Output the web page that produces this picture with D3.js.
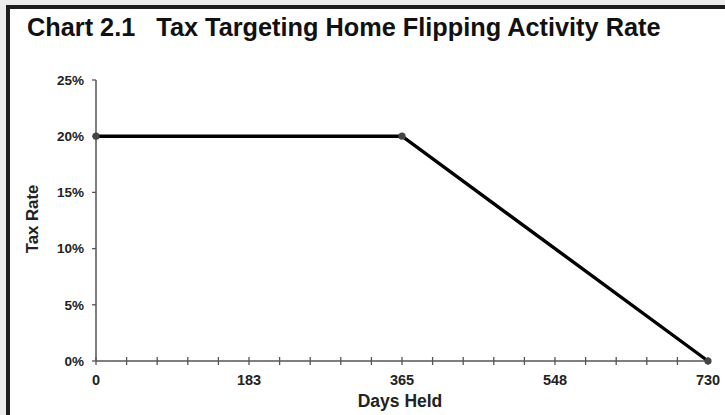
<!DOCTYPE html>
<html><head><meta charset="utf-8">
<script src="https://cdn.jsdelivr.net/npm/d3@7"></script>
<style>html,body{margin:0;padding:0;background:#ececec;}svg{display:block;}</style>
</head><body>
<script>
const daysHeld = [0, 365, 730];
const taxRate = [0.20, 0.20, 0.00];
const xTickLabels = ["0", "183", "365", "548", "730"];
const yTicks = [0, 0.05, 0.10, 0.15, 0.20, 0.25];
const title = "Chart 2.1   Tax Targeting Home Flipping Activity Rate";
const xTitle = "Days Held";
const yTitle = "Tax Rate";

const W = 725, H = 415;
const svg = d3.select("body").append("svg").attr("width", W).attr("height", H);
svg.append("rect").attr("x", 0).attr("y", 0).attr("width", W).attr("height", H).attr("fill", "#ececec");
svg.append("rect").attr("x", 8).attr("y", 7).attr("width", W + 10).attr("height", H + 10)
  .attr("fill", "#fff").attr("stroke", "#1e1e1e").attr("stroke-width", 4);

const font = "'Liberation Sans', Arial, sans-serif";
svg.append("text").attr("x", 27).attr("y", 36).attr("font-family", font).attr("font-weight", "bold")
  .attr("font-size", 25.3).attr("fill", "#111").style("white-space", "pre").text(title);

const x = d3.scaleLinear().domain([0, 730]).range([96, 708]);
const y = d3.scaleLinear().domain([0, 0.25]).range([361, 80]);
const axisColor = "#555";

// y axis
const gy = svg.append("g");
gy.append("line").attr("x1", x(0)).attr("x2", x(0)).attr("y1", y(0)).attr("y2", y(0.25))
  .attr("stroke", axisColor).attr("stroke-width", 1.5);
yTicks.forEach(t => {
  gy.append("line").attr("x1", x(0) - 4).attr("x2", x(0)).attr("y1", y(t)).attr("y2", y(t))
    .attr("stroke", axisColor).attr("stroke-width", 1.3);
  gy.append("text").attr("x", 84).attr("y", y(t)).attr("dy", "0.35em").attr("text-anchor", "end")
    .attr("font-family", font).attr("font-weight", "bold").attr("font-size", 13.5).attr("fill", "#222")
    .text(d3.format(".0%")(t));
});

// x axis
const gx = svg.append("g");
gx.append("line").attr("x1", x(0)).attr("x2", x(730)).attr("y1", y(0)).attr("y2", y(0))
  .attr("stroke", axisColor).attr("stroke-width", 1.5);
d3.range(0, 21).forEach(i => {
  const v = i * 36.5;
  gx.append("line").attr("x1", x(v)).attr("x2", x(v)).attr("y1", y(0) - 4).attr("y2", y(0) + 4)
    .attr("stroke", axisColor).attr("stroke-width", 1.3);
});
xTickLabels.forEach((lab, i) => {
  gx.append("text").attr("x", x(i * 182.5)).attr("y", 385).attr("text-anchor", "middle")
    .attr("font-family", font).attr("font-weight", "bold").attr("font-size", 14.5).attr("fill", "#222").text(lab);
});

svg.append("text").attr("x", 400).attr("y", 407).attr("text-anchor", "middle")
  .attr("font-family", font).attr("font-weight", "bold").attr("font-size", 17.5).attr("fill", "#222").text(xTitle);
svg.append("text").attr("transform", "translate(38,219) rotate(-90)")
  .attr("text-anchor", "middle").attr("font-family", font).attr("font-weight", "bold")
  .attr("font-size", 16.8).attr("fill", "#222").text(yTitle);

const pts = daysHeld.map((d, i) => [d, taxRate[i]]);
svg.append("path").datum(pts).attr("fill", "none").attr("stroke", "#000").attr("stroke-width", 3.4)
  .attr("d", d3.line().x(d => x(d[0])).y(d => y(d[1])));
svg.selectAll("circle.pt").data(pts).enter().append("circle").attr("class", "pt")
  .attr("cx", d => x(d[0])).attr("cy", d => y(d[1])).attr("r", 3.6).attr("fill", "#444");
</script>
</body></html>
